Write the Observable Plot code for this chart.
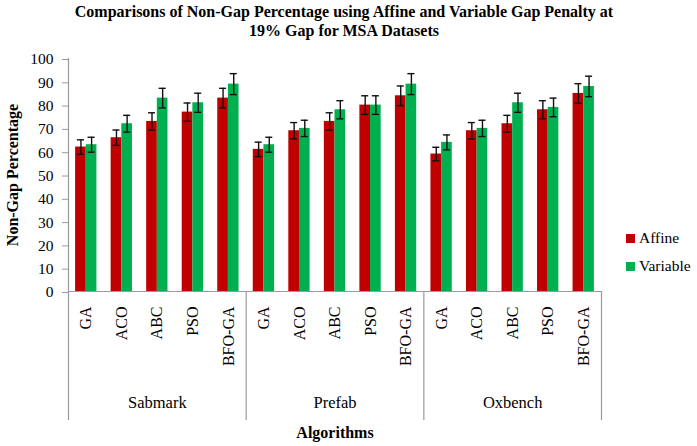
<!DOCTYPE html>
<html>
<head>
<meta charset="utf-8">
<script src="https://cdn.jsdelivr.net/npm/d3@7"></script>
<script src="https://cdn.jsdelivr.net/npm/@observablehq/plot@0.6"></script>
<style>
  body { margin: 0; background: #fff; }
  #wrap { position: relative; width: 697px; height: 446px; font-family: "Liberation Serif", "Times New Roman", serif; }
  #title { height: 42px; box-sizing: border-box; padding-top: 2px; padding-right: 9px; text-align: center; font-weight: bold; font-size: 16px; line-height: 19px; color: #000; }
  .lg { position: absolute; display: flex; align-items: center; font-size: 15.5px; color: #000; }
  .sw { width: 9px; height: 9px; margin-right: 4px; }
</style>
</head>
<body>
<div id="wrap">
  <div id="title">Comparisons of Non-Gap Percentage using Affine and Variable Gap Penalty at<br>19% Gap for MSA Datasets</div>
  <div id="chart"></div>
  <div id="legend"></div>
</div>
<script>
const datasets = ["Sabmark", "Prefab", "Oxbench"];
const algorithms = ["GA", "ACO", "ABC", "PSO", "BFO-GA"];
const series = ["Affine", "Variable"];
const colors = ["#C00000", "#00B050"];
const affine   = [62, 66, 73, 77, 83,  61, 69, 73, 80, 84,  59, 69, 72, 78, 85];
const variable = [63, 72, 83, 81, 89,  63, 70, 78, 80, 89,  64, 70, 81, 79, 88];
const affineErr   = [3.1, 3.3, 3.7, 3.9, 4.2,  3.1, 3.5, 3.7, 4.0, 4.2,  2.9, 3.5, 3.6, 3.9, 4.2];
const variableErr = [3.2, 3.6, 4.2, 4.1, 4.5,  3.2, 3.5, 3.9, 4.0, 4.5,  3.2, 3.5, 4.1, 4.0, 4.4];
const yTicks = [0, 10, 20, 30, 40, 50, 60, 70, 80, 90, 100];
const yLabel = "Non-Gap Percentage";
const xLabel = "Algorithms";

const keys = datasets.flatMap(d => algorithms.map(a => d + "|" + a));
const rows = keys.flatMap((k, i) => [
  {key: k, series: series[0], value: affine[i], err: affineErr[i]},
  {key: k, series: series[1], value: variable[i], err: variableErr[i]}
]);

// layout
const width = 697, height = 404, mT = 16, mB = 155, mL = 68, mR = 96;
const innerH = height - mT - mB;
const step = (width - mL - mR) / keys.length;
const pad = 2 / 3;
const barW = step / (2 + 2 * pad);
const edge = barW * (pad + 0.5);
const below = 129;
const gray = "#9a9a9a";
const font = '"Liberation Serif", "Times New Roman", serif';

const firstKeys = datasets.map(d => d + "|" + algorithms[0]);
const lastKey = keys[keys.length - 1];
const midKeys = datasets.map(d => d + "|" + algorithms[Math.floor(algorithms.length / 2)]);

const chart = Plot.plot({
  width, height, marginTop: mT, marginBottom: mB, marginLeft: mL, marginRight: mR,
  style: {fontFamily: font, fontSize: "15px", color: "#000", background: "#fff", overflow: "visible"},
  fx: {domain: keys, padding: 0, round: false},
  x: {domain: series, paddingInner: 0, paddingOuter: pad, round: false, axis: null},
  y: {domain: [0, 100], axis: null},
  color: {domain: series, range: colors},
  marks: [
    Plot.barY(rows, {fx: "key", x: "series", y: "value", fill: "series"}),
    Plot.ruleY([0], {stroke: gray, strokeWidth: 1.2}),
    Plot.ruleX(rows, {fx: "key", x: "series", y1: d => d.value - d.err, y2: d => d.value + d.err, stroke: "#111", strokeWidth: 1.4}),
    Plot.tickY(rows, {fx: "key", x: "series", y: d => d.value + d.err, stroke: "#111", strokeWidth: 1.4, insetLeft: 1.8, insetRight: 1.8}),
    Plot.tickY(rows, {fx: "key", x: "series", y: d => d.value - d.err, stroke: "#111", strokeWidth: 1.4, insetLeft: 1.8, insetRight: 1.8}),
    Plot.axisY({ticks: yTicks, tickSize: 6, tickPadding: 9, label: null, stroke: gray, fontSize: 15.5, dy: 1}),
    Plot.axisFx({anchor: "bottom", tickSize: 0, tickPadding: 15, tickRotate: -90, tickFormat: k => k.split("|")[1], label: null, fontSize: 16}),
    // left axis line + divider
    Plot.ruleX([keys[0]], {fx: d => d, x: () => series[0], dx: -edge, insetBottom: -below, stroke: gray, strokeWidth: 1.2}),
    Plot.ruleX(firstKeys.slice(1), {fx: d => d, x: () => series[0], dx: -edge, insetTop: innerH, insetBottom: -below, stroke: gray, strokeWidth: 1.2}),
    Plot.ruleX([lastKey], {fx: d => d, x: () => series[1], dx: edge, insetTop: innerH, insetBottom: -below, stroke: gray, strokeWidth: 1.2}),
    // dataset labels
    Plot.text(datasets, {fx: (d, i) => midKeys[i], text: d => d, frameAnchor: "bottom", dy: 116, fontSize: 16.5}),
    // axis titles
    Plot.text([xLabel], {fx: () => midKeys[1], text: d => d, frameAnchor: "bottom", dy: 146, fontSize: 16, fontWeight: "bold"}),
    Plot.text([yLabel], {fx: () => keys[0], text: d => d, frameAnchor: "left", textAnchor: "middle", rotate: -90, dx: -56, fontSize: 16, fontWeight: "bold"})
  ]
});
document.getElementById("chart").appendChild(chart);

// legend
const legend = document.getElementById("legend");
const legendTops = [229, 257];
series.forEach((s, i) => {
  const el = document.createElement("div");
  el.className = "lg";
  el.style.left = "626px";
  el.style.top = legendTops[i] + "px";
  el.style.height = "18px";
  el.innerHTML = `<div class="sw" style="background:${colors[i]}"></div><span>${s}</span>`;
  legend.appendChild(el);
});
</script>
</body>
</html>
